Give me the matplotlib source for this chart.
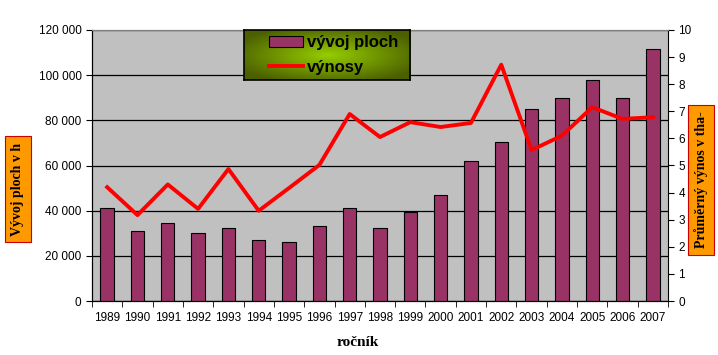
import matplotlib
matplotlib.use("Agg")
import matplotlib.pyplot as plt
import numpy as np
from matplotlib.ticker import FuncFormatter

years = ["1989", "1990", "1991", "1992", "1993", "1994", "1995", "1996", "1997", "1998",
         "1999", "2000", "2001", "2002", "2003", "2004", "2005", "2006", "2007"]
plochy = [41000, 31000, 34700, 30200, 32400, 27000, 26200, 33300, 41000, 32400,
          39500, 46800, 62000, 70400, 85000, 89900, 97700, 89900, 111600]
vynosy = [4.2, 3.17, 4.3, 3.4, 4.87, 3.33, 4.17, 5.02, 6.9, 6.05,
          6.6, 6.42, 6.57, 8.72, 5.57, 6.1, 7.15, 6.72, 6.78]

fig = plt.figure(figsize=(7.18, 3.55), dpi=100)
ax = fig.add_axes([92/718, 1-301/355, 576/718, 271/355])
ax.set_facecolor("#C0C0C0")
x = np.arange(len(years))
ax.bar(x, plochy, width=0.44, color="#993366", edgecolor="black", linewidth=0.8, zorder=3,
       label="vývoj ploch")
ax.set_xlim(-0.5, len(years)-0.5)
ax.set_ylim(0, 120000)
ax.set_yticks(np.arange(0, 120001, 20000))
ax.yaxis.set_major_formatter(FuncFormatter(lambda v, p: f"{int(v):,}".replace(",", " ")))
ax.grid(axis="y", color="black", linewidth=0.9, zorder=1)
ax.set_axisbelow(True)
ax.set_xticks(x)
ax.set_xticklabels(years, fontsize=8.5, family="Liberation Sans")
ax.set_xticks(np.arange(-0.5, len(years)), minor=True)
ax.tick_params(axis="x", which="major", length=0, pad=8)
ax.tick_params(axis="x", which="minor", length=4, direction="out")
ax.tick_params(axis="y", labelsize=8.5, length=4, direction="out")
for lbl in ax.get_yticklabels():
    lbl.set_family("Liberation Sans")
ax.spines["top"].set_color("#808080")
ax.spines["right"].set_visible(False)

ax2 = ax.twinx()
ax2.plot(x, vynosy, color="#FF0000", linewidth=2.8, zorder=4, label="výnosy")
ax2.set_ylim(0, 10)
ax2.set_yticks(np.arange(0, 11, 1))
ax2.tick_params(axis="y", labelsize=8.5, length=4, direction="out")
for lbl in ax2.get_yticklabels():
    lbl.set_family("Liberation Sans")
ax2.spines["top"].set_color("#808080")

fig.text(358/718, 1-342/355, "ročník", ha="center", va="center", fontsize=11,
         fontweight="bold", family="Liberation Serif")
fig.text(18/718, 1-189/355, "Vývoj ploch v h", ha="center", va="center", rotation=90,
         fontsize=10, fontweight="bold", family="Liberation Serif",
         bbox=dict(boxstyle="square,pad=0.45", facecolor="#FF9900", edgecolor="#CC0000", linewidth=0.8))
fig.text(701/718, 1-180/355, "Průměrný výnos v tha-", ha="center", va="center", rotation=90,
         fontsize=10, fontweight="bold", family="Liberation Serif",
         bbox=dict(boxstyle="square,pad=0.45", facecolor="#FF9900", edgecolor="#CC0000", linewidth=0.8))

# legend with gradient background
lax = fig.add_axes([244/718, 1-80/355, 166/718, 50/355])
gy, gx = np.mgrid[-1:1:60j, -1:1:200j]
r = np.clip(np.sqrt(gx**2 + gy**2) / 1.2, 0, 1)
c0 = np.array([150, 205, 0]) / 255
c1 = np.array([75, 95, 0]) / 255
img = c0[None, None, :] * (1 - r[..., None]) + c1[None, None, :] * r[..., None]
lax.imshow(img, aspect="auto", extent=[0, 1, 0, 1])
lax.set_xlim(0, 1); lax.set_ylim(0, 1)
lax.set_xticks([]); lax.set_yticks([])
for s in lax.spines.values():
    s.set_color("black"); s.set_linewidth(1.2)
h1, l1 = ax.get_legend_handles_labels()
h2, l2 = ax2.get_legend_handles_labels()
leg = lax.legend(h1 + h2, l1 + l2, loc="center", bbox_to_anchor=(0.54, 0.5), frameon=False,
                 prop=dict(family="Liberation Sans", weight="bold", size=12),
                 handlelength=2.0, handletextpad=0.25, labelspacing=0.55, borderpad=0.1)

fig.savefig("out.png", dpi=100)
